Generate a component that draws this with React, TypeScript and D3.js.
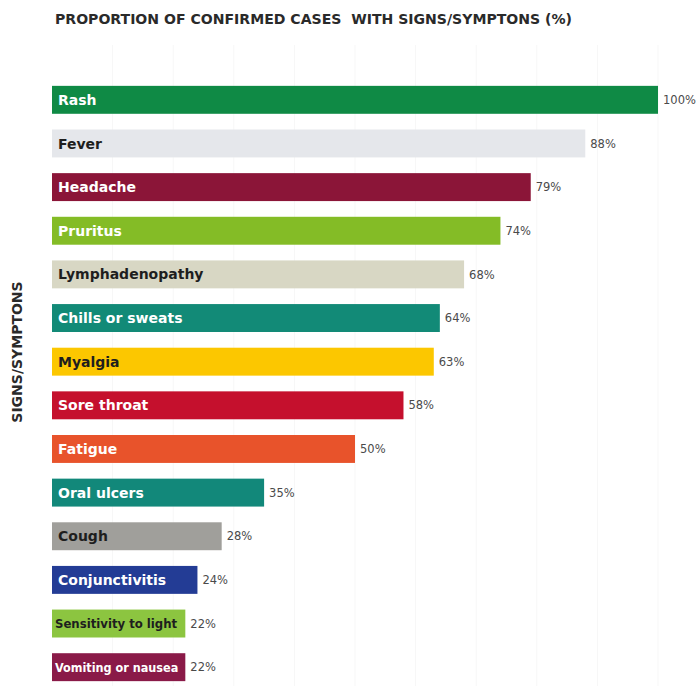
import React, { useEffect, useRef } from "react";
import * as d3 from "d3";

const categories = [
  "Rash", "Fever", "Headache", "Pruritus", "Lymphadenopathy", "Chills or sweats",
  "Myalgia", "Sore throat", "Fatigue", "Oral ulcers", "Cough", "Conjunctivitis",
  "Sensitivity to light", "Vomiting or nausea",
];
const values = [100, 88, 79, 74, 68, 64, 63, 58, 50, 35, 28, 24, 22, 22];
const barColors = [
  "#0f8a45", "#e5e7eb", "#8b1538", "#84bc26", "#d8d7c4", "#128a77",
  "#fcc700", "#c5102d", "#e8532b", "#12887a", "#a09f9b", "#233c95",
  "#8cc540", "#8a1a48",
];
const labelColors = [
  "#ffffff", "#1e1e1e", "#ffffff", "#ffffff", "#1e1e1e", "#ffffff",
  "#1e1e1e", "#ffffff", "#ffffff", "#ffffff", "#1e1e1e", "#ffffff",
  "#1e1e1e", "#ffffff",
];
const gridTicks = [10, 20, 30, 40, 50, 60, 70, 80, 90, 100];
const title = "PROPORTION OF CONFIRMED CASES  WITH SIGNS/SYMPTONS (%)";
const yTitle = "SIGNS/SYMPTONS";

const W = 697, H = 686;

export default function App() {
  const ref = useRef<SVGSVGElement>(null);
  useEffect(() => {
    const svg = d3.select(ref.current);
    svg.selectAll("*").remove();
    const x = d3.scaleLinear().domain([0, 100]).range([52, 658]);
    const y = d3.scaleBand<string>().domain(categories).range([78, 689]).paddingInner(0.36).paddingOuter(0.18);

    svg.append("rect").attr("width", W).attr("height", H).attr("fill", "#ffffff");

    svg.append("g").selectAll("line").data(gridTicks).join("line")
      .attr("x1", d => x(d)).attr("x2", d => x(d))
      .attr("y1", 45).attr("y2", H)
      .attr("stroke", "#f7f7f7").attr("stroke-width", 1);

    svg.append("text").attr("x", 55).attr("y", 24)
      .attr("font-family", "'DejaVu Sans', sans-serif").attr("font-weight", "bold")
      .attr("font-size", 13.5).attr("fill", "#2a2a2a")
      .attr("textLength", 517).attr("lengthAdjust", "spacingAndGlyphs")
      .style("white-space", "pre")
      .text(title);

    svg.append("text")
      .attr("transform", `translate(22,352) rotate(-90)`)
      .attr("text-anchor", "middle")
      .attr("font-family", "'DejaVu Sans', sans-serif").attr("font-weight", "bold")
      .attr("font-size", 14).attr("fill", "#2a2a2a")
      .text(yTitle);

    const rows = categories.map((c, i) => ({ c, v: values[i], fill: barColors[i], tc: labelColors[i] }));
    const g = svg.append("g");
    const row = g.selectAll("g").data(rows).join("g");
    row.append("rect")
      .attr("x", x(0)).attr("y", d => y(d.c)!)
      .attr("width", d => x(d.v) - x(0)).attr("height", y.bandwidth())
      .attr("fill", d => d.fill);
    row.append("text")
      .attr("x", x(0) + 6).attr("y", d => y(d.c)! + y.bandwidth() / 2)
      .attr("dy", "0.36em")
      .attr("font-family", "'DejaVu Sans', sans-serif").attr("font-weight", "bold")
      .attr("font-size", 14).attr("fill", d => d.tc)
      .text(d => d.c)
      .each(function (d) {
        const el = this as SVGTextElement;
        const maxW = x(d.v) - x(0) - 8;
        if (el.getComputedTextLength() > maxW) {
          el.setAttribute("x", String(x(0) + 3));
          el.setAttribute("font-family", "'DejaVu Sans Condensed', 'DejaVu Sans', sans-serif");
          let fs = 14;
          el.setAttribute("font-size", String(fs));
          while (el.getComputedTextLength() > maxW - 1 && fs > 8) {
            fs -= 0.25;
            el.setAttribute("font-size", String(fs));
          }
        }
      });
    row.append("text")
      .attr("x", d => x(d.v) + 5).attr("y", d => y(d.c)! + y.bandwidth() / 2)
      .attr("dy", "0.36em")
      .attr("font-family", "'DejaVu Sans', sans-serif")
      .attr("font-size", 11.5).attr("fill", "#4a4a4a")
      .text(d => `${d.v}%`);
  }, []);
  return (
    <svg ref={ref} width={W} height={H} style={{ position: "absolute", left: 0, top: 0 }} />
  );
}
